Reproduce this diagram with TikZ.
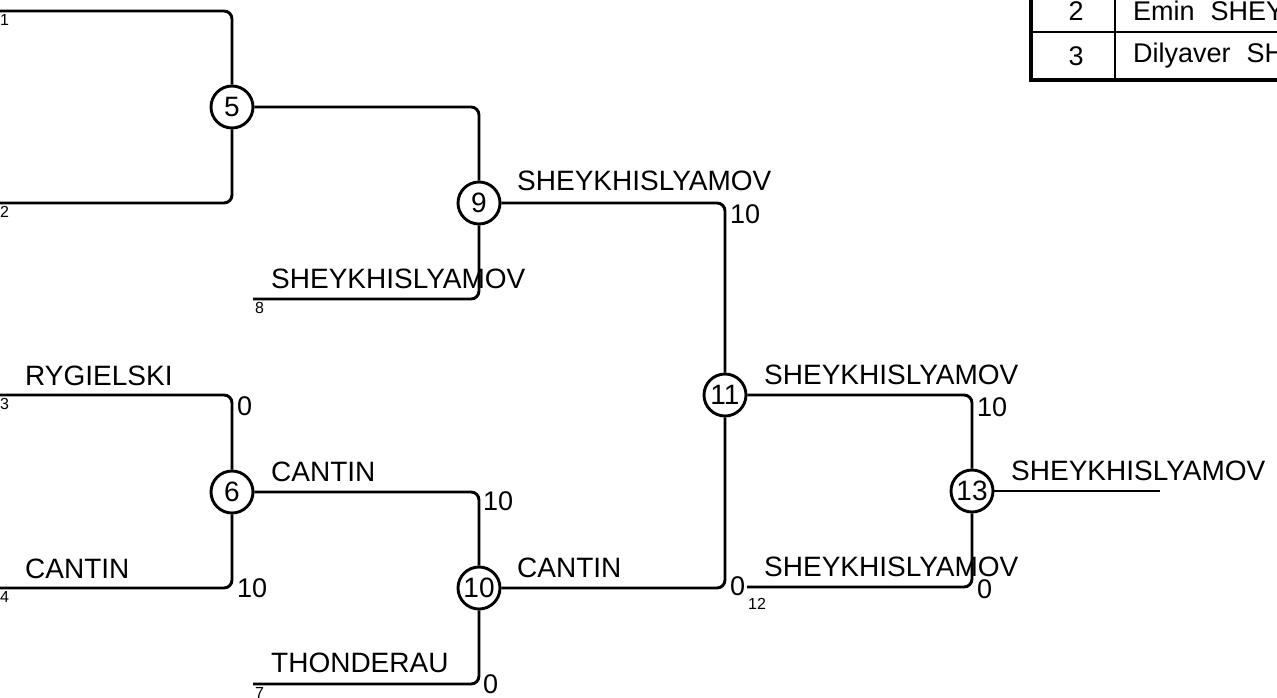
\documentclass[tikz,border=0pt]{standalone}
\usepackage{fontspec}
\setmainfont{Liberation Sans}
\usetikzlibrary{positioning}

\begin{document}
\begin{tikzpicture}[x=1pt,y=-1pt,
  bracket/.style={line width=2.9pt,rounded corners=8pt},
  matchnode/.style={circle,draw,fill=white,line width=2.9pt,minimum size=42pt,inner sep=0pt,font=\fontsize{28}{30}\selectfont},
  player/.style={anchor=base west,inner sep=0pt,font=\fontsize{28}{30}\selectfont},
  score/.style={anchor=west,inner sep=0pt,font=\fontsize{27}{30}\selectfont},
  seed/.style={anchor=north west,inner sep=0pt,font=\fontsize{16}{18}\selectfont},
  cell/.style={inner sep=0pt,font=\fontsize{27}{30}\selectfont}]
\useasboundingbox (0,0) rectangle (1277,697);
\clip (0,0) rectangle (1277,697);

% entry lines
\coordinate (s1) at (0,11);
\coordinate (s2) at (0,203);
\coordinate (s3) at (0,395);
\coordinate (s4) at (0,588);
\coordinate (s8) at (253,299);
\coordinate (s7) at (253,684);
\coordinate (s12) at (747,587);
\coordinate (win) at (1160,491);

% matches
\node[matchnode] (m5) at (232,107) {5};
\node[matchnode] (m6) at (232,492) {6};
\node[matchnode] (m9) at (479,203) {9};
\node[matchnode] (m10) at (479,588) {10};
\node[matchnode] (m11) at (725,395) {11};
\node[matchnode] (m13) at (972,491) {13};

\draw[bracket] (s1) -| (m5);
\draw[bracket] (s2) -| (m5);
\draw[bracket] (s3) -| (m6);
\draw[bracket] (s4) -| (m6);
\draw[bracket] (m5) -| (m9);
\draw[bracket] (s8) -| (m9);
\draw[bracket] (m6) -| (m10);
\draw[bracket] (s7) -| (m10);
\draw[bracket] (m9) -| (m11);
\draw[bracket] (m10) -| (m11);
\draw[bracket] (m11) -| (m13);
\draw[bracket] (s12) -| (m13);
\draw[bracket] (m13) -- (win);

% names
\node[player] (p3) at (25,385) {RYGIELSKI};
\node[player] (p4) at (25,578) {CANTIN};
\node[player] (p8) at (271,288) {SHEYKHISLYAMOV};
\node[player] (p6) at (271,481) {CANTIN};
\node[player] (p7) at (271,672) {THONDERAU};
\node[player] (p9) at (517,190) {SHEYKHISLYAMOV};
\node[player] (p10) at (517,577) {CANTIN};
\node[player] (p11) at (764,384) {SHEYKHISLYAMOV};
\node[player] (p12) at (764,576) {SHEYKHISLYAMOV};
\node[player] (p13) at (1011,480) {SHEYKHISLYAMOV};

% scores
\node[score] (c3) at (237,406) {0};
\node[score] (c4) at (237,588) {10};
\node[score] (c6) at (483,501) {10};
\node[score] (c7) at (483,684) {0};
\node[score] (c9) at (730,214) {10};
\node[score] (c10) at (730,586) {0};
\node[score] (c11) at (977,407) {10};
\node[score] (c12) at (977,589) {0};

% seeds
\node[seed] (n1) at (0,14) {1};
\node[seed] (n2) at (0,206) {2};
\node[seed] (n3) at (0,398) {3};
\node[seed] (n4) at (0,591) {4};
\node[seed] (n8) at (255,302) {8};
\node[seed] (n7) at (255,687) {7};
\node[seed] (n12) at (748,598) {12};

% standings
\draw[line width=2.5pt] (1031,32) -- (1290,32);
\draw[line width=2.5pt] (1115,-20) -- (1115,80);
\draw[line width=4.5pt] (1031,-20) -- (1031,80) -- (1290,80);
\node[cell] (r2) at (1076,11) {2};
\node[cell] (r3) at (1076,56) {3};
\node[cell,anchor=west] (q2) at (1133,11) {Emin\hspace{16pt}SHEYKHISLYAMOV};
\node[cell,anchor=west] (q3) at (1133,56) {Dilyaver\hspace{16pt}SHEYKHISLYAMOV};
\end{tikzpicture}
\end{document}
